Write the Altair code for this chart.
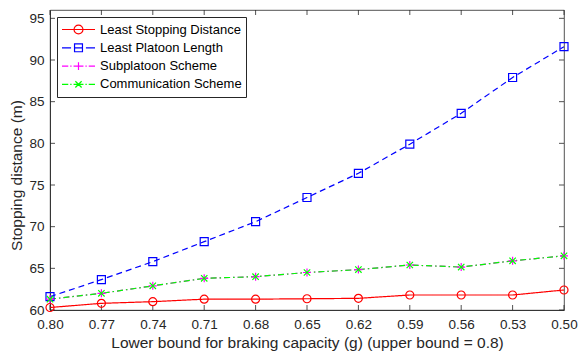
import altair as alt
import pandas as pd

# ---- data ----
x_vals = [0.80, 0.77, 0.74, 0.71, 0.68, 0.65, 0.62, 0.59, 0.56, 0.53, 0.50]
least_stopping = [60.3, 60.8, 61.0, 61.3, 61.3, 61.35, 61.4, 61.8, 61.8, 61.8, 62.4]
least_platoon = [61.6, 63.65, 65.8, 68.2, 70.6, 73.5, 76.4, 79.9, 83.6, 87.9, 91.6]
subplatoon = [61.3, 62.0, 62.9, 63.8, 64.0, 64.5, 64.85, 65.4, 65.15, 65.9, 66.5]
communication = [61.3, 62.0, 62.9, 63.8, 64.0, 64.5, 64.85, 65.4, 65.15, 65.9, 66.5]

series_names = ["Least Stopping Distance", "Least Platoon Length",
                "Subplatoon Scheme", "Communication Scheme"]
series_values = [least_stopping, least_platoon, subplatoon, communication]
colors = ["#FF0000", "#0000FF", "#FF00FF", "#00FF00"]
dashes = [[1, 0], [6, 4], [6, 3, 1.5, 3], [6, 3, 1.5, 3]]

x_ticks = x_vals
y_ticks = [60, 65, 70, 75, 80, 85, 90, 95]

PLUS = "M-1,0L1,0M0,-1L0,1"
XMARK = "M-0.8,-0.8L0.8,0.8M-0.8,0.8L0.8,-0.8"
marker_shapes = ["circle", "square", PLUS, XMARK]

# legend glyphs: line sample with the marker in the middle
LEG_RED = ("M-1,0L1,0M0.27,0A0.27,0.27,0,1,1,-0.27,0A0.27,0.27,0,1,1,0.27,0")
LEG_BLUE = ("M-1,0L-0.45,0M-0.24,0L0.24,0M0.45,0L1,0"
            "M-0.24,-0.24L0.24,-0.24L0.24,0.24L-0.24,0.24Z")
LEG_MAG = ("M-1,0L-0.62,0M-0.5,0L-0.42,0M-0.3,0L0.3,0M0.42,0L0.5,0M0.62,0L1,0"
           "M0,-0.24L0,0.24")
LEG_GRN = ("M-1,0L-0.62,0M-0.5,0L-0.42,0M-0.3,0L0.3,0M0.42,0L0.5,0M0.62,0L1,0"
           "M-0.19,-0.19L0.19,0.19M-0.19,0.19L0.19,-0.19")
legend_shapes = [LEG_RED, LEG_BLUE, LEG_MAG, LEG_GRN]

rows = []
for name, vals in zip(series_names, series_values):
    for xv, yv in zip(x_vals, vals):
        rows.append({"x": xv, "y": yv, "series": name})
df = pd.DataFrame(rows)

W, H = 514, 300
FONT = "Liberation Sans"
AX = "#262626"

xscale = alt.Scale(domain=[0.5, 0.8], reverse=True, nice=False, zero=False)
yscale = alt.Scale(domain=[60, 96], nice=False, zero=False)

xenc = alt.X("x:Q", scale=xscale,
             axis=alt.Axis(values=x_ticks, format=".2f", ticks=False, grid=False,
                           labelFlush=False,
                           title="Lower bound for braking capacity (g) (upper bound = 0.8)",
                           labelPadding=7, titlePadding=5, titleFontSize=15.5,
                           titleX=257))
yenc = alt.Y("y:Q", scale=yscale,
             axis=alt.Axis(values=y_ticks, format="d", ticks=False, grid=False,
                           labelFlush=False,
                           title="Stopping distance (m)",
                           labelPadding=6, titlePadding=4, titleFontSize=15.5,
                           titleY=165))

col_nolegend = alt.Color("series:N", scale=alt.Scale(domain=series_names, range=colors), legend=None)

lines = alt.Chart(df).mark_line(strokeWidth=1.2).encode(
    x=xenc, y=yenc,
    color=col_nolegend,
    strokeDash=alt.StrokeDash("series:N", scale=alt.Scale(domain=series_names, range=dashes), legend=None),
    order=alt.Order("x:Q", sort="descending"),
)

points = alt.Chart(df).mark_point(filled=False, size=64, strokeWidth=1.2, opacity=1).encode(
    x=alt.X("x:Q", scale=xscale), y=alt.Y("y:Q", scale=yscale),
    color=col_nolegend,
    shape=alt.Shape("series:N", scale=alt.Scale(domain=series_names, range=marker_shapes), legend=None),
)

leg_kwargs = dict(title=None, orient="none", legendX=7, legendY=7,
                  symbolOpacity=1, symbolSize=1089,
                  symbolStrokeWidth=1.2, clipHeight=17,
                  rowPadding=1.3, padding=4, labelOffset=4,
                  labelFont=FONT, labelFontSize=13,
                  labelColor="#000000", labelLimit=300,
                  fillColor="white", strokeColor=AX)

legend_layer = alt.Chart(df).mark_point(filled=False, opacity=0, size=1089).encode(
    x=alt.X("x:Q", scale=xscale), y=alt.Y("y:Q", scale=yscale),
    color=alt.Color("series:N", scale=alt.Scale(domain=series_names, range=colors),
                    legend=alt.Legend(**leg_kwargs)),
    shape=alt.Shape("series:N", scale=alt.Scale(domain=series_names, range=legend_shapes),
                    legend=alt.Legend(**leg_kwargs)),
)

# inward tick marks on all four sides
xt = pd.DataFrame({"t": x_ticks})
yt = pd.DataFrame({"t": y_ticks})
tick_bottom = alt.Chart(xt).mark_rule(color=AX, strokeWidth=0.8).encode(
    x=alt.X("t:Q", scale=xscale), y=alt.value(H), y2=alt.value(H - 5))
tick_top = alt.Chart(xt).mark_rule(color=AX, strokeWidth=0.8).encode(
    x=alt.X("t:Q", scale=xscale), y=alt.value(0), y2=alt.value(5))
tick_left = alt.Chart(yt).mark_rule(color=AX, strokeWidth=0.8).encode(
    y=alt.Y("t:Q", scale=yscale), x=alt.value(0), x2=alt.value(5))
tick_right = alt.Chart(yt).mark_rule(color=AX, strokeWidth=0.8).encode(
    y=alt.Y("t:Q", scale=yscale), x=alt.value(W), x2=alt.value(W - 5))

chart = alt.layer(
    lines, tick_bottom, tick_top, tick_left, tick_right, points, legend_layer
).resolve_scale(
    color="independent", shape="independent"
).properties(
    width=W, height=H,
    background="white",
    autosize=alt.AutoSizeParams(type="none"),
    padding={"left": 42, "top": 2, "right": 14, "bottom": 43},
).configure_view(
    stroke=AX, strokeWidth=0.8
).configure_axis(
    labelFont=FONT, labelFontSize=13.5, labelColor=AX,
    titleFont=FONT, titleColor=AX, titleFontWeight="normal",
    domainColor=AX, domainWidth=0.8,
)

chart.save("out.html", embed_options={"renderer": "svg", "actions": False})
